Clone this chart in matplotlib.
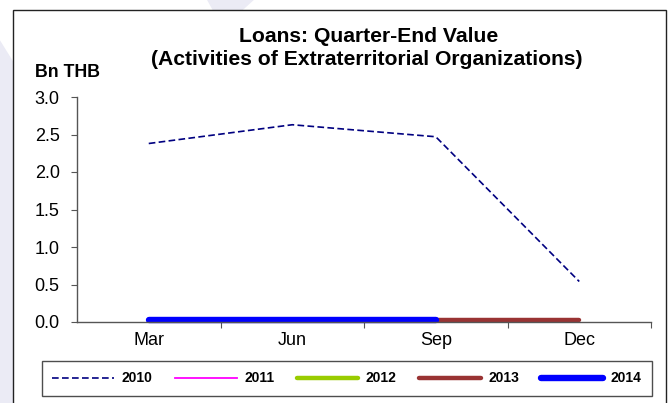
import matplotlib
matplotlib.use("Agg")
import matplotlib.pyplot as plt
from matplotlib.patches import Rectangle, Polygon

plt.rcParams['font.family'] = ['Liberation Sans', 'DejaVu Sans']

months = ["Mar", "Jun", "Sep", "Dec"]
loans_2010 = [2.38, 2.63, 2.47, 0.54]
loans_2011 = [None, None, None, None]
loans_2012 = [None, None, None, None]
loans_2013 = [0.03, 0.03, 0.03, 0.03]
loans_2014 = [0.03, 0.03, 0.03, None]
yticks = [0.0, 0.5, 1.0, 1.5, 2.0, 2.5, 3.0]

W, H = 668, 403
fig = plt.figure(figsize=(W / 100, H / 100), dpi=100)

# faint watermark shapes in the background
fig.patches.append(Polygon([(0, 0.0), (0.045, 0.0), (0.045, 0.78), (0, 0.9)],
                           transform=fig.transFigure, facecolor="#ebebf5",
                           edgecolor="none", zorder=-3))
fig.patches.append(Polygon([(0.31, 1.0), (0.38, 1.0), (0.36, 0.97), (0.32, 0.97)],
                           transform=fig.transFigure, facecolor="#ebebf5",
                           edgecolor="none", zorder=-3))
# outer chart frame
fig.patches.append(Rectangle((13 / W, -0.05), 653 / W, 1 - 10 / H + 0.05,
                             transform=fig.transFigure, facecolor="white",
                             edgecolor="#222222", lw=1.0, zorder=-2))

ax = fig.add_axes([77 / W, 1 - 322 / H, (651 - 77) / W, (322 - 97) / H])
ax.set_facecolor("none")
x = list(range(len(months)))

def clean(v):
    return [float("nan") if a is None else a for a in v]

l10, = ax.plot(x, loans_2010, color="#000080", lw=1.2, ls=(0, (4, 2)), label="2010")
l11, = ax.plot(x, clean(loans_2011), color="#ff00ff", lw=1.3, label="2011")
l12, = ax.plot(x, clean(loans_2012), color="#99cc00", lw=3.2, label="2012",
               solid_capstyle="round")
l13, = ax.plot(x, loans_2013, color="#993333", lw=3.2, label="2013",
               solid_capstyle="round")
l14, = ax.plot(x, clean(loans_2014), color="#0000ff", lw=4.6, label="2014",
               solid_capstyle="round")
for ln in (l12, l13, l14):
    ln.set_clip_on(False)

ax.set_xlim(-0.5, 3.5)
ax.set_ylim(0, 3.0)
ax.set_yticks(yticks)
ax.set_yticklabels([f"{t:.1f}" for t in yticks], fontsize=13)
ax.set_xticks([0.5, 1.5, 2.5, 3.5])
ax.set_xticklabels([])
ax.set_xticks(x, minor=True)
ax.set_xticklabels(months, minor=True, fontsize=13)
ax.tick_params(axis="x", which="minor", length=0, pad=7)
ax.tick_params(axis="x", which="major", direction="out", length=4.5, color="#555555")
ax.tick_params(axis="y", direction="out", length=4.5, color="#555555", pad=8)
for s in ["top", "right"]:
    ax.spines[s].set_visible(False)
for s in ["left", "bottom"]:
    ax.spines[s].set_color("#555555")
    ax.spines[s].set_linewidth(1.0)

fig.text(369 / W, 1 - 42 / H, "Loans: Quarter-End Value", ha="center",
         va="baseline", fontsize=15.2, fontweight="bold")
fig.text(367 / W, 1 - 65 / H, "(Activities of Extraterritorial Organizations)",
         ha="center", va="baseline", fontsize=15.2, fontweight="bold")
fig.text(35 / W, 1 - 77 / H, "Bn THB", ha="left", va="baseline", fontsize=12.8,
         fontweight="bold")

leg = fig.legend(handles=[l10, l11, l12, l13, l14], loc="center",
                 bbox_to_anchor=(347 / W, 1 - 378.5 / H), ncol=5, frameon=True,
                 fancybox=False, edgecolor="#222222", handlelength=4.45,
                 columnspacing=1.6, handletextpad=0.55,
                 prop={"size": 10, "weight": "bold"}, borderpad=0.75)
leg.get_frame().set_linewidth(1.0)
fig.canvas.draw()
# stretch the frame to the width of the reference box
fr = leg.get_frame()
bb = fr.get_bbox()
fr.set_bounds(35, bb.y0, 617, bb.height)

fig.savefig("out.png", dpi=100)
